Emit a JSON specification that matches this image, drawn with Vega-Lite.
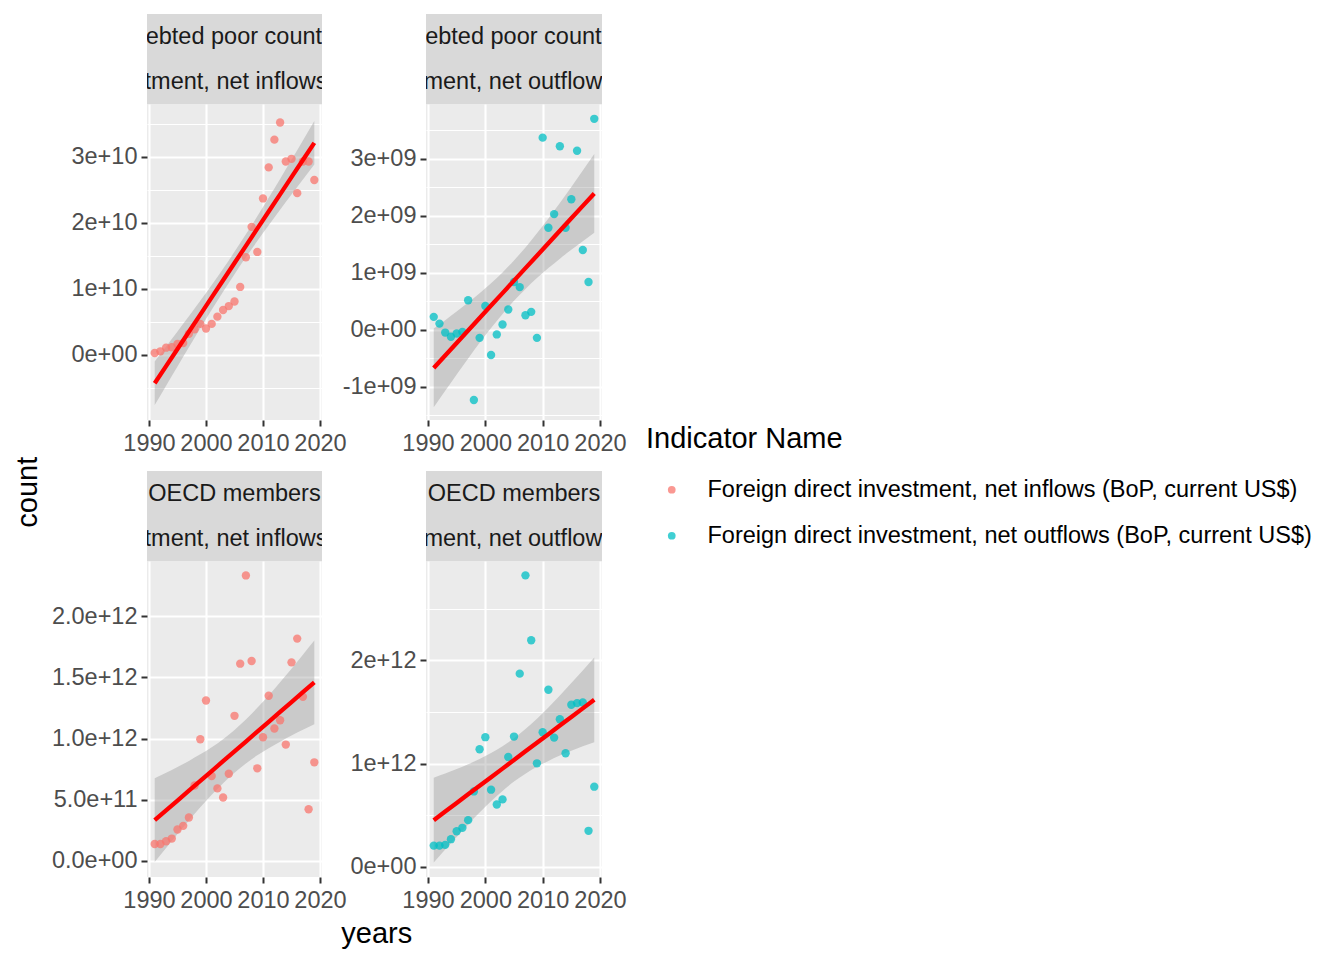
{
  "$schema": "https://vega.github.io/schema/vega-lite/v6.json",
  "padding": {"left": 14, "top": 14, "right": 5, "bottom": 5},
  "datasets": {
    "pts": [
      {"country": "Heavily indebted poor countries (HIPC)", "indicator": "Foreign direct investment, net inflows (BoP, current US$)", "year": 1991, "value": 3.0e8},
      {"country": "Heavily indebted poor countries (HIPC)", "indicator": "Foreign direct investment, net inflows (BoP, current US$)", "year": 1992, "value": 5.5e8},
      {"country": "Heavily indebted poor countries (HIPC)", "indicator": "Foreign direct investment, net inflows (BoP, current US$)", "year": 1993, "value": 1.1e9},
      {"country": "Heavily indebted poor countries (HIPC)", "indicator": "Foreign direct investment, net inflows (BoP, current US$)", "year": 1994, "value": 1.16e9},
      {"country": "Heavily indebted poor countries (HIPC)", "indicator": "Foreign direct investment, net inflows (BoP, current US$)", "year": 1995, "value": 1.67e9},
      {"country": "Heavily indebted poor countries (HIPC)", "indicator": "Foreign direct investment, net inflows (BoP, current US$)", "year": 1996, "value": 1.8e9},
      {"country": "Heavily indebted poor countries (HIPC)", "indicator": "Foreign direct investment, net inflows (BoP, current US$)", "year": 1997, "value": 3.2e9},
      {"country": "Heavily indebted poor countries (HIPC)", "indicator": "Foreign direct investment, net inflows (BoP, current US$)", "year": 1998, "value": 3.9e9},
      {"country": "Heavily indebted poor countries (HIPC)", "indicator": "Foreign direct investment, net inflows (BoP, current US$)", "year": 1999, "value": 4.7e9},
      {"country": "Heavily indebted poor countries (HIPC)", "indicator": "Foreign direct investment, net inflows (BoP, current US$)", "year": 2000, "value": 4.0e9},
      {"country": "Heavily indebted poor countries (HIPC)", "indicator": "Foreign direct investment, net inflows (BoP, current US$)", "year": 2001, "value": 4.7e9},
      {"country": "Heavily indebted poor countries (HIPC)", "indicator": "Foreign direct investment, net inflows (BoP, current US$)", "year": 2002, "value": 5.8e9},
      {"country": "Heavily indebted poor countries (HIPC)", "indicator": "Foreign direct investment, net inflows (BoP, current US$)", "year": 2003, "value": 6.8e9},
      {"country": "Heavily indebted poor countries (HIPC)", "indicator": "Foreign direct investment, net inflows (BoP, current US$)", "year": 2004, "value": 7.4e9},
      {"country": "Heavily indebted poor countries (HIPC)", "indicator": "Foreign direct investment, net inflows (BoP, current US$)", "year": 2005, "value": 8.1e9},
      {"country": "Heavily indebted poor countries (HIPC)", "indicator": "Foreign direct investment, net inflows (BoP, current US$)", "year": 2006, "value": 1.03e10},
      {"country": "Heavily indebted poor countries (HIPC)", "indicator": "Foreign direct investment, net inflows (BoP, current US$)", "year": 2007, "value": 1.48e10},
      {"country": "Heavily indebted poor countries (HIPC)", "indicator": "Foreign direct investment, net inflows (BoP, current US$)", "year": 2008, "value": 1.94e10},
      {"country": "Heavily indebted poor countries (HIPC)", "indicator": "Foreign direct investment, net inflows (BoP, current US$)", "year": 2009, "value": 1.56e10},
      {"country": "Heavily indebted poor countries (HIPC)", "indicator": "Foreign direct investment, net inflows (BoP, current US$)", "year": 2010, "value": 2.37e10},
      {"country": "Heavily indebted poor countries (HIPC)", "indicator": "Foreign direct investment, net inflows (BoP, current US$)", "year": 2011, "value": 2.84e10},
      {"country": "Heavily indebted poor countries (HIPC)", "indicator": "Foreign direct investment, net inflows (BoP, current US$)", "year": 2012, "value": 3.26e10},
      {"country": "Heavily indebted poor countries (HIPC)", "indicator": "Foreign direct investment, net inflows (BoP, current US$)", "year": 2013, "value": 3.52e10},
      {"country": "Heavily indebted poor countries (HIPC)", "indicator": "Foreign direct investment, net inflows (BoP, current US$)", "year": 2014, "value": 2.93e10},
      {"country": "Heavily indebted poor countries (HIPC)", "indicator": "Foreign direct investment, net inflows (BoP, current US$)", "year": 2015, "value": 2.97e10},
      {"country": "Heavily indebted poor countries (HIPC)", "indicator": "Foreign direct investment, net inflows (BoP, current US$)", "year": 2016, "value": 2.45e10},
      {"country": "Heavily indebted poor countries (HIPC)", "indicator": "Foreign direct investment, net inflows (BoP, current US$)", "year": 2017, "value": 2.93e10},
      {"country": "Heavily indebted poor countries (HIPC)", "indicator": "Foreign direct investment, net inflows (BoP, current US$)", "year": 2018, "value": 2.93e10},
      {"country": "Heavily indebted poor countries (HIPC)", "indicator": "Foreign direct investment, net inflows (BoP, current US$)", "year": 2019, "value": 2.65e10},

      {"country": "Heavily indebted poor countries (HIPC)", "indicator": "Foreign direct investment, net outflows (BoP, current US$)", "year": 1991, "value": 2.28e8},
      {"country": "Heavily indebted poor countries (HIPC)", "indicator": "Foreign direct investment, net outflows (BoP, current US$)", "year": 1992, "value": 1.1e8},
      {"country": "Heavily indebted poor countries (HIPC)", "indicator": "Foreign direct investment, net outflows (BoP, current US$)", "year": 1993, "value": -4.7e7},
      {"country": "Heavily indebted poor countries (HIPC)", "indicator": "Foreign direct investment, net outflows (BoP, current US$)", "year": 1994, "value": -1.2e8},
      {"country": "Heavily indebted poor countries (HIPC)", "indicator": "Foreign direct investment, net outflows (BoP, current US$)", "year": 1995, "value": -6.4e7},
      {"country": "Heavily indebted poor countries (HIPC)", "indicator": "Foreign direct investment, net outflows (BoP, current US$)", "year": 1996, "value": -3.5e7},
      {"country": "Heavily indebted poor countries (HIPC)", "indicator": "Foreign direct investment, net outflows (BoP, current US$)", "year": 1997, "value": 5.2e8},
      {"country": "Heavily indebted poor countries (HIPC)", "indicator": "Foreign direct investment, net outflows (BoP, current US$)", "year": 1998, "value": -1.23e9},
      {"country": "Heavily indebted poor countries (HIPC)", "indicator": "Foreign direct investment, net outflows (BoP, current US$)", "year": 1999, "value": -1.4e8},
      {"country": "Heavily indebted poor countries (HIPC)", "indicator": "Foreign direct investment, net outflows (BoP, current US$)", "year": 2000, "value": 4.2e8},
      {"country": "Heavily indebted poor countries (HIPC)", "indicator": "Foreign direct investment, net outflows (BoP, current US$)", "year": 2001, "value": -4.4e8},
      {"country": "Heavily indebted poor countries (HIPC)", "indicator": "Foreign direct investment, net outflows (BoP, current US$)", "year": 2002, "value": -8.0e7},
      {"country": "Heavily indebted poor countries (HIPC)", "indicator": "Foreign direct investment, net outflows (BoP, current US$)", "year": 2003, "value": 9.4e7},
      {"country": "Heavily indebted poor countries (HIPC)", "indicator": "Foreign direct investment, net outflows (BoP, current US$)", "year": 2004, "value": 3.57e8},
      {"country": "Heavily indebted poor countries (HIPC)", "indicator": "Foreign direct investment, net outflows (BoP, current US$)", "year": 2005, "value": 8.4e8},
      {"country": "Heavily indebted poor countries (HIPC)", "indicator": "Foreign direct investment, net outflows (BoP, current US$)", "year": 2006, "value": 7.5e8},
      {"country": "Heavily indebted poor countries (HIPC)", "indicator": "Foreign direct investment, net outflows (BoP, current US$)", "year": 2007, "value": 2.57e8},
      {"country": "Heavily indebted poor countries (HIPC)", "indicator": "Foreign direct investment, net outflows (BoP, current US$)", "year": 2008, "value": 3.16e8},
      {"country": "Heavily indebted poor countries (HIPC)", "indicator": "Foreign direct investment, net outflows (BoP, current US$)", "year": 2009, "value": -1.4e8},
      {"country": "Heavily indebted poor countries (HIPC)", "indicator": "Foreign direct investment, net outflows (BoP, current US$)", "year": 2010, "value": 3.37e9},
      {"country": "Heavily indebted poor countries (HIPC)", "indicator": "Foreign direct investment, net outflows (BoP, current US$)", "year": 2011, "value": 1.79e9},
      {"country": "Heavily indebted poor countries (HIPC)", "indicator": "Foreign direct investment, net outflows (BoP, current US$)", "year": 2012, "value": 2.03e9},
      {"country": "Heavily indebted poor countries (HIPC)", "indicator": "Foreign direct investment, net outflows (BoP, current US$)", "year": 2013, "value": 3.22e9},
      {"country": "Heavily indebted poor countries (HIPC)", "indicator": "Foreign direct investment, net outflows (BoP, current US$)", "year": 2014, "value": 1.79e9},
      {"country": "Heavily indebted poor countries (HIPC)", "indicator": "Foreign direct investment, net outflows (BoP, current US$)", "year": 2015, "value": 2.29e9},
      {"country": "Heavily indebted poor countries (HIPC)", "indicator": "Foreign direct investment, net outflows (BoP, current US$)", "year": 2016, "value": 3.14e9},
      {"country": "Heavily indebted poor countries (HIPC)", "indicator": "Foreign direct investment, net outflows (BoP, current US$)", "year": 2017, "value": 1.4e9},
      {"country": "Heavily indebted poor countries (HIPC)", "indicator": "Foreign direct investment, net outflows (BoP, current US$)", "year": 2018, "value": 8.4e8},
      {"country": "Heavily indebted poor countries (HIPC)", "indicator": "Foreign direct investment, net outflows (BoP, current US$)", "year": 2019, "value": 3.7e9},

      {"country": "OECD members", "indicator": "Foreign direct investment, net inflows (BoP, current US$)", "year": 1991, "value": 1.39e11},
      {"country": "OECD members", "indicator": "Foreign direct investment, net inflows (BoP, current US$)", "year": 1992, "value": 1.39e11},
      {"country": "OECD members", "indicator": "Foreign direct investment, net inflows (BoP, current US$)", "year": 1993, "value": 1.61e11},
      {"country": "OECD members", "indicator": "Foreign direct investment, net inflows (BoP, current US$)", "year": 1994, "value": 1.83e11},
      {"country": "OECD members", "indicator": "Foreign direct investment, net inflows (BoP, current US$)", "year": 1995, "value": 2.57e11},
      {"country": "OECD members", "indicator": "Foreign direct investment, net inflows (BoP, current US$)", "year": 1996, "value": 2.87e11},
      {"country": "OECD members", "indicator": "Foreign direct investment, net inflows (BoP, current US$)", "year": 1997, "value": 3.55e11},
      {"country": "OECD members", "indicator": "Foreign direct investment, net inflows (BoP, current US$)", "year": 1998, "value": 6.17e11},
      {"country": "OECD members", "indicator": "Foreign direct investment, net inflows (BoP, current US$)", "year": 1999, "value": 9.95e11},
      {"country": "OECD members", "indicator": "Foreign direct investment, net inflows (BoP, current US$)", "year": 2000, "value": 1.311e12},
      {"country": "OECD members", "indicator": "Foreign direct investment, net inflows (BoP, current US$)", "year": 2001, "value": 6.94e11},
      {"country": "OECD members", "indicator": "Foreign direct investment, net inflows (BoP, current US$)", "year": 2002, "value": 5.93e11},
      {"country": "OECD members", "indicator": "Foreign direct investment, net inflows (BoP, current US$)", "year": 2003, "value": 5.19e11},
      {"country": "OECD members", "indicator": "Foreign direct investment, net inflows (BoP, current US$)", "year": 2004, "value": 7.13e11},
      {"country": "OECD members", "indicator": "Foreign direct investment, net inflows (BoP, current US$)", "year": 2005, "value": 1.186e12},
      {"country": "OECD members", "indicator": "Foreign direct investment, net inflows (BoP, current US$)", "year": 2006, "value": 1.612e12},
      {"country": "OECD members", "indicator": "Foreign direct investment, net inflows (BoP, current US$)", "year": 2007, "value": 2.333e12},
      {"country": "OECD members", "indicator": "Foreign direct investment, net inflows (BoP, current US$)", "year": 2008, "value": 1.634e12},
      {"country": "OECD members", "indicator": "Foreign direct investment, net inflows (BoP, current US$)", "year": 2009, "value": 7.57e11},
      {"country": "OECD members", "indicator": "Foreign direct investment, net inflows (BoP, current US$)", "year": 2010, "value": 1.011e12},
      {"country": "OECD members", "indicator": "Foreign direct investment, net inflows (BoP, current US$)", "year": 2011, "value": 1.35e12},
      {"country": "OECD members", "indicator": "Foreign direct investment, net inflows (BoP, current US$)", "year": 2012, "value": 1.082e12},
      {"country": "OECD members", "indicator": "Foreign direct investment, net inflows (BoP, current US$)", "year": 2013, "value": 1.15e12},
      {"country": "OECD members", "indicator": "Foreign direct investment, net inflows (BoP, current US$)", "year": 2014, "value": 9.51e11},
      {"country": "OECD members", "indicator": "Foreign direct investment, net inflows (BoP, current US$)", "year": 2015, "value": 1.623e12},
      {"country": "OECD members", "indicator": "Foreign direct investment, net inflows (BoP, current US$)", "year": 2016, "value": 1.817e12},
      {"country": "OECD members", "indicator": "Foreign direct investment, net inflows (BoP, current US$)", "year": 2017, "value": 1.342e12},
      {"country": "OECD members", "indicator": "Foreign direct investment, net inflows (BoP, current US$)", "year": 2018, "value": 4.23e11},
      {"country": "OECD members", "indicator": "Foreign direct investment, net inflows (BoP, current US$)", "year": 2019, "value": 8.06e11},

      {"country": "OECD members", "indicator": "Foreign direct investment, net outflows (BoP, current US$)", "year": 1991, "value": 2.07e11},
      {"country": "OECD members", "indicator": "Foreign direct investment, net outflows (BoP, current US$)", "year": 1992, "value": 2.07e11},
      {"country": "OECD members", "indicator": "Foreign direct investment, net outflows (BoP, current US$)", "year": 1993, "value": 2.14e11},
      {"country": "OECD members", "indicator": "Foreign direct investment, net outflows (BoP, current US$)", "year": 1994, "value": 2.69e11},
      {"country": "OECD members", "indicator": "Foreign direct investment, net outflows (BoP, current US$)", "year": 1995, "value": 3.46e11},
      {"country": "OECD members", "indicator": "Foreign direct investment, net outflows (BoP, current US$)", "year": 1996, "value": 3.79e11},
      {"country": "OECD members", "indicator": "Foreign direct investment, net outflows (BoP, current US$)", "year": 1997, "value": 4.53e11},
      {"country": "OECD members", "indicator": "Foreign direct investment, net outflows (BoP, current US$)", "year": 1998, "value": 7.31e11},
      {"country": "OECD members", "indicator": "Foreign direct investment, net outflows (BoP, current US$)", "year": 1999, "value": 1.139e12},
      {"country": "OECD members", "indicator": "Foreign direct investment, net outflows (BoP, current US$)", "year": 2000, "value": 1.256e12},
      {"country": "OECD members", "indicator": "Foreign direct investment, net outflows (BoP, current US$)", "year": 2001, "value": 7.48e11},
      {"country": "OECD members", "indicator": "Foreign direct investment, net outflows (BoP, current US$)", "year": 2002, "value": 6.05e11},
      {"country": "OECD members", "indicator": "Foreign direct investment, net outflows (BoP, current US$)", "year": 2003, "value": 6.54e11},
      {"country": "OECD members", "indicator": "Foreign direct investment, net outflows (BoP, current US$)", "year": 2004, "value": 1.065e12},
      {"country": "OECD members", "indicator": "Foreign direct investment, net outflows (BoP, current US$)", "year": 2005, "value": 1.262e12},
      {"country": "OECD members", "indicator": "Foreign direct investment, net outflows (BoP, current US$)", "year": 2006, "value": 1.871e12},
      {"country": "OECD members", "indicator": "Foreign direct investment, net outflows (BoP, current US$)", "year": 2007, "value": 2.822e12},
      {"country": "OECD members", "indicator": "Foreign direct investment, net outflows (BoP, current US$)", "year": 2008, "value": 2.194e12},
      {"country": "OECD members", "indicator": "Foreign direct investment, net outflows (BoP, current US$)", "year": 2009, "value": 1.003e12},
      {"country": "OECD members", "indicator": "Foreign direct investment, net outflows (BoP, current US$)", "year": 2010, "value": 1.304e12},
      {"country": "OECD members", "indicator": "Foreign direct investment, net outflows (BoP, current US$)", "year": 2011, "value": 1.715e12},
      {"country": "OECD members", "indicator": "Foreign direct investment, net outflows (BoP, current US$)", "year": 2012, "value": 1.252e12},
      {"country": "OECD members", "indicator": "Foreign direct investment, net outflows (BoP, current US$)", "year": 2013, "value": 1.43e12},
      {"country": "OECD members", "indicator": "Foreign direct investment, net outflows (BoP, current US$)", "year": 2014, "value": 1.1e12},
      {"country": "OECD members", "indicator": "Foreign direct investment, net outflows (BoP, current US$)", "year": 2015, "value": 1.57e12},
      {"country": "OECD members", "indicator": "Foreign direct investment, net outflows (BoP, current US$)", "year": 2016, "value": 1.586e12},
      {"country": "OECD members", "indicator": "Foreign direct investment, net outflows (BoP, current US$)", "year": 2017, "value": 1.592e12},
      {"country": "OECD members", "indicator": "Foreign direct investment, net outflows (BoP, current US$)", "year": 2018, "value": 3.5e11},
      {"country": "OECD members", "indicator": "Foreign direct investment, net outflows (BoP, current US$)", "year": 2019, "value": 7.77e11}
    ],
    "fit": [
      {"panel": "HIPC in", "year": 1991, "fit": -4.29e9, "lo": -7.59e9, "hi": -9.9e8},
      {"panel": "HIPC in", "year": 1993, "fit": -1.69e9, "lo": -4.65e9, "hi": 1.27e9},
      {"panel": "HIPC in", "year": 1995, "fit": 9.1e8, "lo": -1.73e9, "hi": 3.55e9},
      {"panel": "HIPC in", "year": 1997, "fit": 3.51e9, "lo": 1.17e9, "hi": 5.85e9},
      {"panel": "HIPC in", "year": 1999, "fit": 6.11e9, "lo": 4.03e9, "hi": 8.19e9},
      {"panel": "HIPC in", "year": 2001, "fit": 8.71e9, "lo": 6.835e9, "hi": 1.0585e10},
      {"panel": "HIPC in", "year": 2003, "fit": 1.131e10, "lo": 9.57e9, "hi": 1.305e10},
      {"panel": "HIPC in", "year": 2005, "fit": 1.392e10, "lo": 1.223e10, "hi": 1.561e10},
      {"panel": "HIPC in", "year": 2007, "fit": 1.652e10, "lo": 1.478e10, "hi": 1.826e10},
      {"panel": "HIPC in", "year": 2009, "fit": 1.912e10, "lo": 1.7245e10, "hi": 2.0995e10},
      {"panel": "HIPC in", "year": 2011, "fit": 2.172e10, "lo": 1.964e10, "hi": 2.38e10},
      {"panel": "HIPC in", "year": 2013, "fit": 2.432e10, "lo": 2.198e10, "hi": 2.666e10},
      {"panel": "HIPC in", "year": 2015, "fit": 2.692e10, "lo": 2.428e10, "hi": 2.956e10},
      {"panel": "HIPC in", "year": 2017, "fit": 2.952e10, "lo": 2.656e10, "hi": 3.248e10},
      {"panel": "HIPC in", "year": 2019, "fit": 3.212e10, "lo": 2.882e10, "hi": 3.542e10},

      {"panel": "HIPC out", "year": 1991, "fit": -6.67e8, "lo": -1.357e9, "hi": 2.3e7},
      {"panel": "HIPC out", "year": 1993, "fit": -4.49e8, "lo": -1.0675e9, "hi": 1.695e8},
      {"panel": "HIPC out", "year": 1995, "fit": -2.3e8, "lo": -7.81e8, "hi": 3.21e8},
      {"panel": "HIPC out", "year": 1997, "fit": -1.1e7, "lo": -5.005e8, "hi": 4.785e8},
      {"panel": "HIPC out", "year": 1999, "fit": 2.08e8, "lo": -2.27e8, "hi": 6.43e8},
      {"panel": "HIPC out", "year": 2001, "fit": 4.26e8, "lo": 3.4e7, "hi": 8.18e8},
      {"panel": "HIPC out", "year": 2003, "fit": 6.44e8, "lo": 2.8e8, "hi": 1.008e9},
      {"panel": "HIPC out", "year": 2005, "fit": 8.63e8, "lo": 5.09e8, "hi": 1.217e9},
      {"panel": "HIPC out", "year": 2007, "fit": 1.082e9, "lo": 7.18e8, "hi": 1.446e9},
      {"panel": "HIPC out", "year": 2009, "fit": 1.3e9, "lo": 9.08e8, "hi": 1.692e9},
      {"panel": "HIPC out", "year": 2011, "fit": 1.518e9, "lo": 1.083e9, "hi": 1.953e9},
      {"panel": "HIPC out", "year": 2013, "fit": 1.737e9, "lo": 1.2475e9, "hi": 2.2265e9},
      {"panel": "HIPC out", "year": 2015, "fit": 1.956e9, "lo": 1.405e9, "hi": 2.507e9},
      {"panel": "HIPC out", "year": 2017, "fit": 2.174e9, "lo": 1.5555e9, "hi": 2.7925e9},
      {"panel": "HIPC out", "year": 2019, "fit": 2.392e9, "lo": 1.702e9, "hi": 3.082e9},

      {"panel": "OECD in", "year": 1991, "fit": 3.33e11, "lo": -9.0e9, "hi": 6.75e11},
      {"panel": "OECD in", "year": 1993, "fit": 4.13e11, "lo": 1.06e11, "hi": 7.2e11},
      {"panel": "OECD in", "year": 1995, "fit": 4.94e11, "lo": 2.21e11, "hi": 7.67e11},
      {"panel": "OECD in", "year": 1997, "fit": 5.74e11, "lo": 3.31e11, "hi": 8.17e11},
      {"panel": "OECD in", "year": 1999, "fit": 6.55e11, "lo": 4.39e11, "hi": 8.71e11},
      {"panel": "OECD in", "year": 2001, "fit": 7.35e11, "lo": 5.41e11, "hi": 9.29e11},
      {"panel": "OECD in", "year": 2003, "fit": 8.15e11, "lo": 6.35e11, "hi": 9.95e11},
      {"panel": "OECD in", "year": 2005, "fit": 8.96e11, "lo": 7.21e11, "hi": 1.071e12},
      {"panel": "OECD in", "year": 2007, "fit": 9.76e11, "lo": 7.96e11, "hi": 1.156e12},
      {"panel": "OECD in", "year": 2009, "fit": 1.057e12, "lo": 8.63e11, "hi": 1.251e12},
      {"panel": "OECD in", "year": 2011, "fit": 1.137e12, "lo": 9.21e11, "hi": 1.353e12},
      {"panel": "OECD in", "year": 2013, "fit": 1.218e12, "lo": 9.75e11, "hi": 1.461e12},
      {"panel": "OECD in", "year": 2015, "fit": 1.298e12, "lo": 1.025e12, "hi": 1.571e12},
      {"panel": "OECD in", "year": 2017, "fit": 1.379e12, "lo": 1.072e12, "hi": 1.686e12},
      {"panel": "OECD in", "year": 2019, "fit": 1.459e12, "lo": 1.117e12, "hi": 1.801e12},

      {"panel": "OECD out", "year": 1991, "fit": 4.53e11, "lo": 4.3e10, "hi": 8.63e11},
      {"panel": "OECD out", "year": 1993, "fit": 5.36e11, "lo": 1.685e11, "hi": 9.035e11},
      {"panel": "OECD out", "year": 1995, "fit": 6.19e11, "lo": 2.91e11, "hi": 9.47e11},
      {"panel": "OECD out", "year": 1997, "fit": 7.03e11, "lo": 4.12e11, "hi": 9.94e11},
      {"panel": "OECD out", "year": 1999, "fit": 7.86e11, "lo": 5.27e11, "hi": 1.045e12},
      {"panel": "OECD out", "year": 2001, "fit": 8.69e11, "lo": 6.36e11, "hi": 1.102e12},
      {"panel": "OECD out", "year": 2003, "fit": 9.52e11, "lo": 7.36e11, "hi": 1.168e12},
      {"panel": "OECD out", "year": 2005, "fit": 1.036e12, "lo": 8.26e11, "hi": 1.246e12},
      {"panel": "OECD out", "year": 2007, "fit": 1.119e12, "lo": 9.03e11, "hi": 1.335e12},
      {"panel": "OECD out", "year": 2009, "fit": 1.202e12, "lo": 9.69e11, "hi": 1.435e12},
      {"panel": "OECD out", "year": 2011, "fit": 1.285e12, "lo": 1.026e12, "hi": 1.544e12},
      {"panel": "OECD out", "year": 2013, "fit": 1.369e12, "lo": 1.078e12, "hi": 1.66e12},
      {"panel": "OECD out", "year": 2015, "fit": 1.452e12, "lo": 1.124e12, "hi": 1.78e12},
      {"panel": "OECD out", "year": 2017, "fit": 1.535e12, "lo": 1.1675e12, "hi": 1.9025e12},
      {"panel": "OECD out", "year": 2019, "fit": 1.618e12, "lo": 1.208e12, "hi": 2.028e12}
    ]
  },
  "title": {"text": "count", "orient": "left", "anchor": "middle", "offset": 8, "dx": -11},
  "vconcat": [
    {
      "title": {"text": "years", "orient": "bottom", "anchor": "middle", "frame": "bounds", "dx": 38, "offset": 8},
      "columns": 2,
      "spacing": {"row": 16, "column": -5},
      "concat": [
        {
          "spacing": 0,
          "vconcat": [
            {"width": 175, "height": 45, "view": {"fill": "#D9D9D9", "stroke": null},
             "data": {"values": [{"label": "Heavily indebted poor countries (HIPC)"}]},
             "mark": {"type": "text", "clip": true, "fontSize": 23.5, "color": "#1A1A1A", "font": "Liberation Sans"},
             "encoding": {"text": {"field": "label", "type": "nominal"}}},
            {"width": 175, "height": 45, "view": {"fill": "#D9D9D9", "stroke": null},
             "data": {"values": [{"label": "Foreign direct investment, net inflows (BoP, current US$)"}]},
             "mark": {"type": "text", "clip": true, "fontSize": 23.5, "color": "#1A1A1A", "font": "Liberation Sans"},
             "encoding": {"text": {"field": "label", "type": "nominal"}}},
            {"width": 175, "height": 316, "view": {"fill": "#EBEBEB", "stroke": null},
             "layer": [
               {"data": {"name": "fit"}, "transform": [{"filter": "datum.panel === 'HIPC in'"}],
                "mark": {"type": "area", "color": "#999999", "opacity": 0.4, "interpolate": "monotone"},
                "encoding": {
                  "x": {"field": "year", "type": "quantitative", "title": null, "scale": {"domain": [1989.65, 2020.35], "nice": false, "zero": false},
                        "axis": {"values": [1990, 1995, 2000, 2005, 2010, 2015, 2020], "labelExpr": "datum.value % 10 === 0 ? format(datum.value, 'd') : ''", "gridWidth": {"condition": {"test": "datum.value % 10 !== 0", "value": 1.05}, "value": 2.1}, "tickOpacity": {"condition": {"test": "datum.value % 10 !== 0", "value": 0}, "value": 1}, "labelPadding": 5}},
                  "y": {"field": "lo", "type": "quantitative", "title": null, "scale": {"domain": [-9.85e9, 3.8e10], "nice": false, "zero": false},
                        "axis": {"tickCount": 10, "labelExpr": "datum.value % 1e10 === 0 ? replace(replace(replace(format(datum.value, '.0e'), 'e+0', 'e+00'), 'e+9', 'e+09'), '\u2212', '-') : ''", "gridWidth": {"condition": {"test": "datum.value % 1e10 !== 0", "value": 1.05}, "value": 2.1}, "tickOpacity": {"condition": {"test": "datum.value % 1e10 !== 0", "value": 0}, "value": 1}}},
                  "y2": {"field": "hi"}}},
               {"data": {"name": "pts"}, "transform": [{"filter": "datum.country === 'Heavily indebted poor countries (HIPC)' && indexof(datum.indicator, 'inflows') >= 0"}],
                "mark": {"type": "point", "filled": true, "size": 70, "opacity": 0.75},
                "encoding": {
                  "x": {"field": "year", "type": "quantitative", "title": null, "scale": {"domain": [1989.65, 2020.35], "nice": false, "zero": false}},
                  "y": {"field": "value", "type": "quantitative", "title": null, "scale": {"domain": [-9.85e9, 3.8e10], "nice": false, "zero": false}},
                  "color": {"field": "indicator", "type": "nominal", "scale": {"domain": ["Foreign direct investment, net inflows (BoP, current US$)", "Foreign direct investment, net outflows (BoP, current US$)"], "range": ["#F8766D", "#00BFC4"]}, "legend": {"title": "Indicator Name", "orient": "none", "legendX": 499, "legendY": 411}}}},
               {"data": {"name": "fit"}, "transform": [{"filter": "datum.panel === 'HIPC in'"}],
                "mark": {"type": "line", "color": "#FF0000", "strokeWidth": 4.3},
                "encoding": {
                  "x": {"field": "year", "type": "quantitative", "title": null, "scale": {"domain": [1989.65, 2020.35], "nice": false, "zero": false}},
                  "y": {"field": "fit", "type": "quantitative", "title": null, "scale": {"domain": [-9.85e9, 3.8e10], "nice": false, "zero": false}}}}
             ]}
          ]
        },
        {
          "spacing": 0,
          "vconcat": [
            {"width": 176, "height": 45, "view": {"fill": "#D9D9D9", "stroke": null},
             "data": {"values": [{"label": "Heavily indebted poor countries (HIPC)"}]},
             "mark": {"type": "text", "clip": true, "fontSize": 23.5, "color": "#1A1A1A", "font": "Liberation Sans"},
             "encoding": {"text": {"field": "label", "type": "nominal"}}},
            {"width": 176, "height": 45, "view": {"fill": "#D9D9D9", "stroke": null},
             "data": {"values": [{"label": "Foreign direct investment, net outflows (BoP, current US$)"}]},
             "mark": {"type": "text", "clip": true, "fontSize": 23.5, "color": "#1A1A1A", "font": "Liberation Sans"},
             "encoding": {"text": {"field": "label", "type": "nominal"}}},
            {"width": 176, "height": 316, "view": {"fill": "#EBEBEB", "stroke": null},
             "layer": [
               {"data": {"name": "fit"}, "transform": [{"filter": "datum.panel === 'HIPC out'"}],
                "mark": {"type": "area", "color": "#999999", "opacity": 0.4, "interpolate": "monotone"},
                "encoding": {
                  "x": {"field": "year", "type": "quantitative", "title": null, "scale": {"domain": [1989.65, 2020.35], "nice": false, "zero": false},
                        "axis": {"values": [1990, 1995, 2000, 2005, 2010, 2015, 2020], "labelExpr": "datum.value % 10 === 0 ? format(datum.value, 'd') : ''", "gridWidth": {"condition": {"test": "datum.value % 10 !== 0", "value": 1.05}, "value": 2.1}, "tickOpacity": {"condition": {"test": "datum.value % 10 !== 0", "value": 0}, "value": 1}, "labelPadding": 5}},
                  "y": {"field": "lo", "type": "quantitative", "title": null, "scale": {"domain": [-1.58e9, 3.96e9], "nice": false, "zero": false},
                        "axis": {"tickCount": 11, "labelExpr": "datum.value % 1e9 === 0 ? replace(replace(replace(format(datum.value, '.0e'), 'e+0', 'e+00'), 'e+9', 'e+09'), '\u2212', '-') : ''", "gridWidth": {"condition": {"test": "datum.value % 1e9 !== 0", "value": 1.05}, "value": 2.1}, "tickOpacity": {"condition": {"test": "datum.value % 1e9 !== 0", "value": 0}, "value": 1}}},
                  "y2": {"field": "hi"}}},
               {"data": {"name": "pts"}, "transform": [{"filter": "datum.country === 'Heavily indebted poor countries (HIPC)' && indexof(datum.indicator, 'outflows') >= 0"}],
                "mark": {"type": "point", "filled": true, "size": 70, "opacity": 0.75},
                "encoding": {
                  "x": {"field": "year", "type": "quantitative", "title": null, "scale": {"domain": [1989.65, 2020.35], "nice": false, "zero": false}},
                  "y": {"field": "value", "type": "quantitative", "title": null, "scale": {"domain": [-1.58e9, 3.96e9], "nice": false, "zero": false}},
                  "color": {"field": "indicator", "type": "nominal", "scale": {"domain": ["Foreign direct investment, net inflows (BoP, current US$)", "Foreign direct investment, net outflows (BoP, current US$)"], "range": ["#F8766D", "#00BFC4"]}, "legend": {"title": "Indicator Name", "orient": "none", "legendX": 499, "legendY": 411}}}},
               {"data": {"name": "fit"}, "transform": [{"filter": "datum.panel === 'HIPC out'"}],
                "mark": {"type": "line", "color": "#FF0000", "strokeWidth": 4.3},
                "encoding": {
                  "x": {"field": "year", "type": "quantitative", "title": null, "scale": {"domain": [1989.65, 2020.35], "nice": false, "zero": false}},
                  "y": {"field": "fit", "type": "quantitative", "title": null, "scale": {"domain": [-1.58e9, 3.96e9], "nice": false, "zero": false}}}}
             ]}
          ]
        },
        {
          "spacing": 0,
          "vconcat": [
            {"width": 175, "height": 45, "view": {"fill": "#D9D9D9", "stroke": null},
             "data": {"values": [{"label": "OECD members"}]},
             "mark": {"type": "text", "clip": true, "fontSize": 23.5, "color": "#1A1A1A", "font": "Liberation Sans"},
             "encoding": {"text": {"field": "label", "type": "nominal"}}},
            {"width": 175, "height": 45, "view": {"fill": "#D9D9D9", "stroke": null},
             "data": {"values": [{"label": "Foreign direct investment, net inflows (BoP, current US$)"}]},
             "mark": {"type": "text", "clip": true, "fontSize": 23.5, "color": "#1A1A1A", "font": "Liberation Sans"},
             "encoding": {"text": {"field": "label", "type": "nominal"}}},
            {"width": 175, "height": 316, "view": {"fill": "#EBEBEB", "stroke": null},
             "layer": [
               {"data": {"name": "fit"}, "transform": [{"filter": "datum.panel === 'OECD in'"}],
                "mark": {"type": "area", "color": "#999999", "opacity": 0.4, "interpolate": "monotone"},
                "encoding": {
                  "x": {"field": "year", "type": "quantitative", "title": null, "scale": {"domain": [1989.65, 2020.35], "nice": false, "zero": false},
                        "axis": {"values": [1990, 1995, 2000, 2005, 2010, 2015, 2020], "labelExpr": "datum.value % 10 === 0 ? format(datum.value, 'd') : ''", "gridWidth": {"condition": {"test": "datum.value % 10 !== 0", "value": 1.05}, "value": 2.1}, "tickOpacity": {"condition": {"test": "datum.value % 10 !== 0", "value": 0}, "value": 1}, "labelPadding": 5}},
                  "y": {"field": "lo", "type": "quantitative", "title": null, "scale": {"domain": [-1.31e11, 2.451e12], "nice": false, "zero": false},
                        "axis": {"values": [0, 2.5e11, 5e11, 7.5e11, 1e12, 1.25e12, 1.5e12, 1.75e12, 2e12, 2.25e12], "labelExpr": "datum.value % 5e11 === 0 ? replace(format(datum.value, '.1e'), 'e+0', 'e+00') : ''", "gridWidth": {"condition": {"test": "datum.value % 5e11 !== 0", "value": 1.05}, "value": 2.1}, "tickOpacity": {"condition": {"test": "datum.value % 5e11 !== 0", "value": 0}, "value": 1}}},
                  "y2": {"field": "hi"}}},
               {"data": {"name": "pts"}, "transform": [{"filter": "datum.country === 'OECD members' && indexof(datum.indicator, 'inflows') >= 0"}],
                "mark": {"type": "point", "filled": true, "size": 70, "opacity": 0.75},
                "encoding": {
                  "x": {"field": "year", "type": "quantitative", "title": null, "scale": {"domain": [1989.65, 2020.35], "nice": false, "zero": false}},
                  "y": {"field": "value", "type": "quantitative", "title": null, "scale": {"domain": [-1.31e11, 2.451e12], "nice": false, "zero": false}},
                  "color": {"field": "indicator", "type": "nominal", "scale": {"domain": ["Foreign direct investment, net inflows (BoP, current US$)", "Foreign direct investment, net outflows (BoP, current US$)"], "range": ["#F8766D", "#00BFC4"]}, "legend": {"title": "Indicator Name", "orient": "none", "legendX": 499, "legendY": 411}}}},
               {"data": {"name": "fit"}, "transform": [{"filter": "datum.panel === 'OECD in'"}],
                "mark": {"type": "line", "color": "#FF0000", "strokeWidth": 4.3},
                "encoding": {
                  "x": {"field": "year", "type": "quantitative", "title": null, "scale": {"domain": [1989.65, 2020.35], "nice": false, "zero": false}},
                  "y": {"field": "fit", "type": "quantitative", "title": null, "scale": {"domain": [-1.31e11, 2.451e12], "nice": false, "zero": false}}}}
             ]}
          ]
        },
        {
          "spacing": 0,
          "vconcat": [
            {"width": 176, "height": 45, "view": {"fill": "#D9D9D9", "stroke": null},
             "data": {"values": [{"label": "OECD members"}]},
             "mark": {"type": "text", "clip": true, "fontSize": 23.5, "color": "#1A1A1A", "font": "Liberation Sans"},
             "encoding": {"text": {"field": "label", "type": "nominal"}}},
            {"width": 176, "height": 45, "view": {"fill": "#D9D9D9", "stroke": null},
             "data": {"values": [{"label": "Foreign direct investment, net outflows (BoP, current US$)"}]},
             "mark": {"type": "text", "clip": true, "fontSize": 23.5, "color": "#1A1A1A", "font": "Liberation Sans"},
             "encoding": {"text": {"field": "label", "type": "nominal"}}},
            {"width": 176, "height": 316, "view": {"fill": "#EBEBEB", "stroke": null},
             "layer": [
               {"data": {"name": "fit"}, "transform": [{"filter": "datum.panel === 'OECD out'"}],
                "mark": {"type": "area", "color": "#999999", "opacity": 0.4, "interpolate": "monotone"},
                "encoding": {
                  "x": {"field": "year", "type": "quantitative", "title": null, "scale": {"domain": [1989.65, 2020.35], "nice": false, "zero": false},
                        "axis": {"values": [1990, 1995, 2000, 2005, 2010, 2015, 2020], "labelExpr": "datum.value % 10 === 0 ? format(datum.value, 'd') : ''", "gridWidth": {"condition": {"test": "datum.value % 10 !== 0", "value": 1.05}, "value": 2.1}, "tickOpacity": {"condition": {"test": "datum.value % 10 !== 0", "value": 0}, "value": 1}, "labelPadding": 5}},
                  "y": {"field": "lo", "type": "quantitative", "title": null, "scale": {"domain": [-9.7e10, 2.961e12], "nice": false, "zero": false},
                        "axis": {"values": [0, 5e11, 1e12, 1.5e12, 2e12, 2.5e12], "labelExpr": "datum.value % 1e12 === 0 ? replace(format(datum.value, '.0e'), 'e+0', 'e+00') : ''", "gridWidth": {"condition": {"test": "datum.value % 1e12 !== 0", "value": 1.05}, "value": 2.1}, "tickOpacity": {"condition": {"test": "datum.value % 1e12 !== 0", "value": 0}, "value": 1}}},
                  "y2": {"field": "hi"}}},
               {"data": {"name": "pts"}, "transform": [{"filter": "datum.country === 'OECD members' && indexof(datum.indicator, 'outflows') >= 0"}],
                "mark": {"type": "point", "filled": true, "size": 70, "opacity": 0.75},
                "encoding": {
                  "x": {"field": "year", "type": "quantitative", "title": null, "scale": {"domain": [1989.65, 2020.35], "nice": false, "zero": false}},
                  "y": {"field": "value", "type": "quantitative", "title": null, "scale": {"domain": [-9.7e10, 2.961e12], "nice": false, "zero": false}},
                  "color": {"field": "indicator", "type": "nominal", "scale": {"domain": ["Foreign direct investment, net inflows (BoP, current US$)", "Foreign direct investment, net outflows (BoP, current US$)"], "range": ["#F8766D", "#00BFC4"]}, "legend": {"title": "Indicator Name", "orient": "none", "legendX": 499, "legendY": 411}}}},
               {"data": {"name": "fit"}, "transform": [{"filter": "datum.panel === 'OECD out'"}],
                "mark": {"type": "line", "color": "#FF0000", "strokeWidth": 4.3},
                "encoding": {
                  "x": {"field": "year", "type": "quantitative", "title": null, "scale": {"domain": [1989.65, 2020.35], "nice": false, "zero": false}},
                  "y": {"field": "fit", "type": "quantitative", "title": null, "scale": {"domain": [-9.7e10, 2.961e12], "nice": false, "zero": false}}}}
             ]}
          ]
        }
      ]
    }
  ],
  "config": {
    "font": "Liberation Sans",
    "view": {"stroke": null},
    "axis": {"labelFont": "Liberation Sans", "labelFontSize": 23.5, "labelColor": "#4D4D4D", "tickColor": "#333333", "tickWidth": 2, "tickSize": 6, "domain": false, "gridColor": "#FFFFFF", "labelPadding": 4, "labelOverlap": false, "labelFlush": false},
    "title": {"font": "Liberation Sans", "fontSize": 29, "fontWeight": "normal", "color": "#000000"},
    "legend": {"titleFont": "Liberation Sans", "titleFontSize": 29, "titleFontWeight": "normal", "titleColor": "#000000", "titleLimit": 600, "labelFont": "Liberation Sans", "labelFontSize": 23.5, "labelColor": "#000000", "symbolType": "circle", "symbolSize": 60, "symbolOpacity": 0.75, "symbolStrokeWidth": 0, "rowPadding": 21, "titlePadding": 24, "labelOffset": 24, "symbolOffset": 14, "labelLimit": 800}
  }
}
